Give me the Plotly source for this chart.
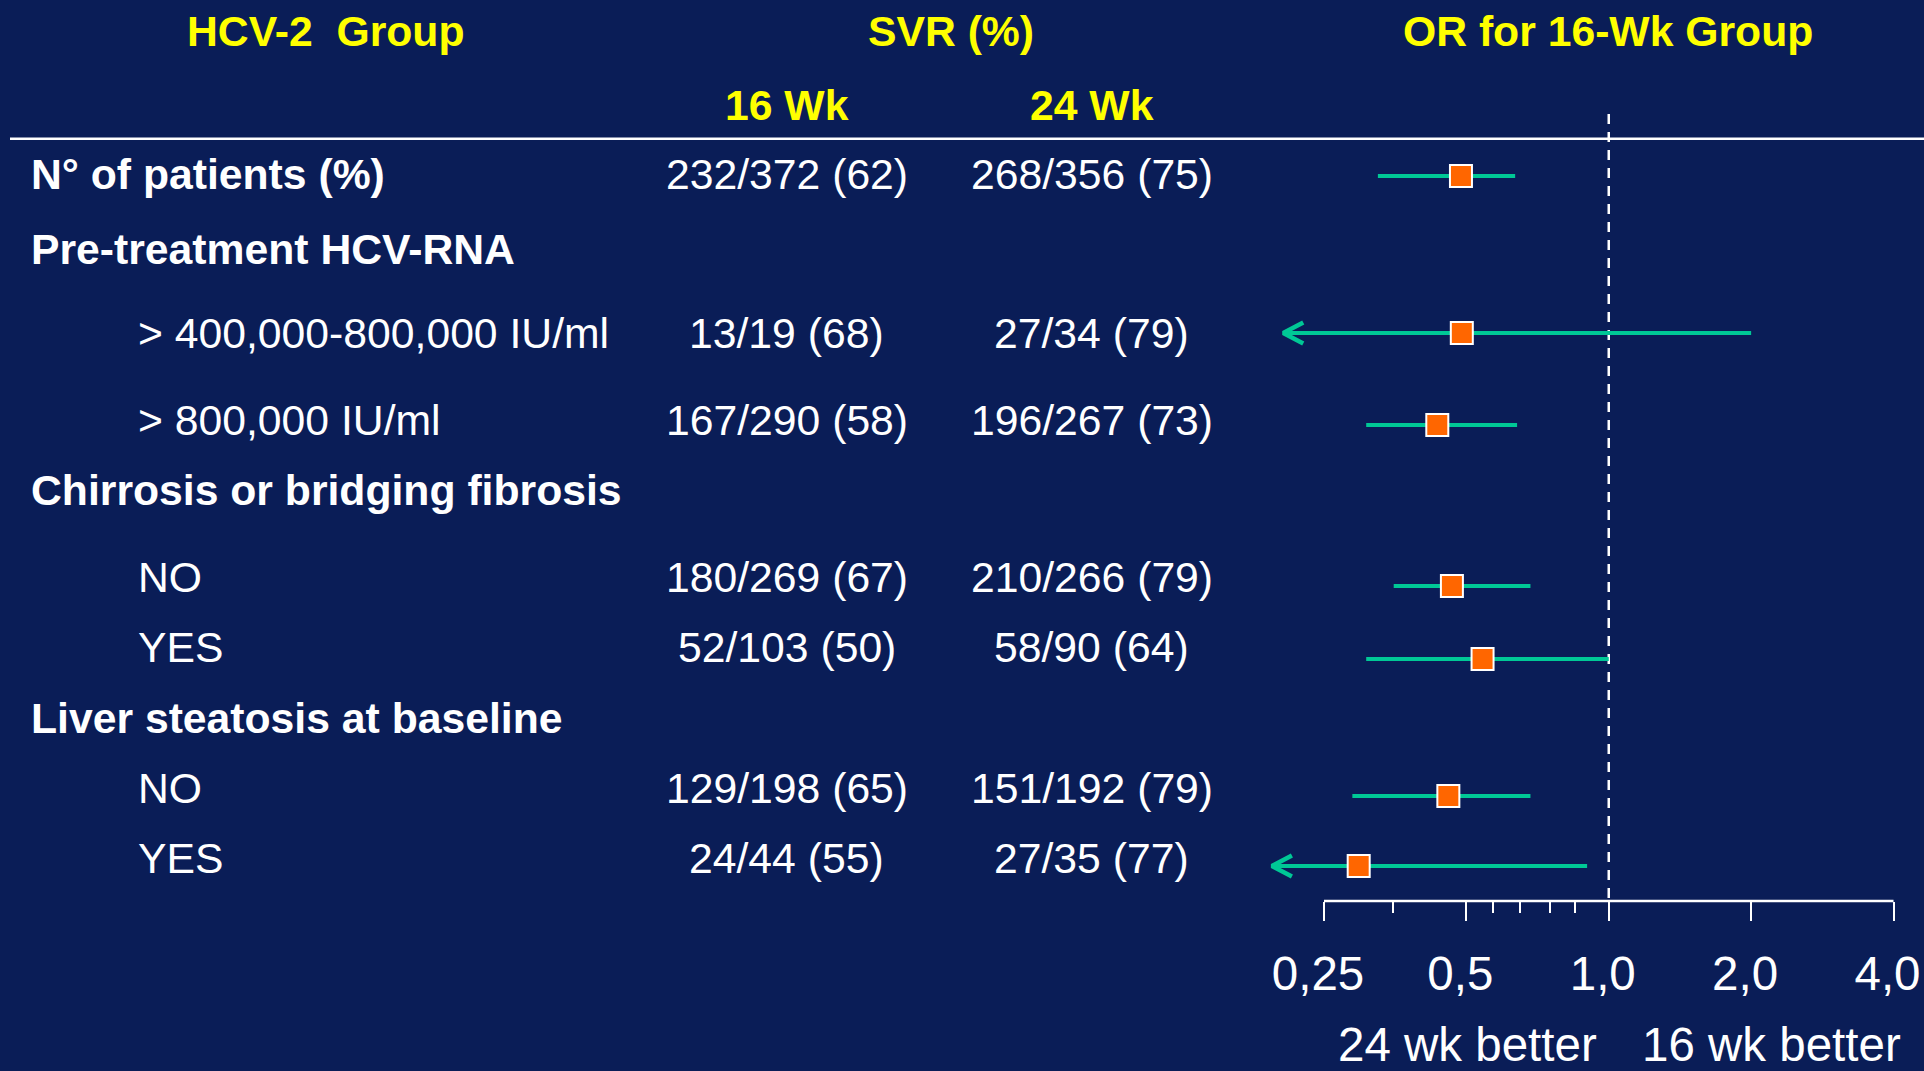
import math
import plotly.graph_objects as go

# ---------------- data ----------------
row_labels = ["N° of patients (%)", "Pre-treatment HCV-RNA", "> 400,000-800,000 IU/ml",
              "> 800,000 IU/ml", "Chirrosis or bridging fibrosis", "NO", "YES",
              "Liver steatosis at baseline", "NO", "YES"]
row_is_group = [True, True, False, False, True, False, False, True, False, False]
svr_16wk = ["232/372 (62)", "", "13/19 (68)", "167/290 (58)", "", "180/269 (67)",
            "52/103 (50)", "", "129/198 (65)", "24/44 (55)"]
svr_24wk = ["268/356 (75)", "", "27/34 (79)", "196/267 (73)", "", "210/266 (79)",
            "58/90 (64)", "", "151/192 (79)", "27/35 (77)"]

# odds ratios (16 wk vs 24 wk)
or_est = [0.487, 0.489, 0.434, 0.466, 0.541, 0.458, 0.296]
or_lo = [0.325, 0.205, 0.307, 0.351, 0.307, 0.287, 0.194]
or_hi = [0.634, 2.0, 0.640, 0.683, 1.0, 0.683, 0.900]
or_lo_arrow = [False, True, False, False, False, False, True]

tick_vals = [0.25, 0.5, 1.0, 2.0, 4.0]
tick_text = ["0,25", "0,5", "1,0", "2,0", "4,0"]
minor_tick_vals = [0.35, 0.57, 0.65, 0.75, 0.85]
ref_or = 1.0

header_group = "HCV-2\u00a0 Group"
header_svr = "SVR (%)"
header_or = "OR for 16-Wk Group"
col_16 = "16 Wk"
col_24 = "24 Wk"
favours = ["24 wk better", "16 wk better"]

# ---------------- layout / style ----------------
W, H = 1924, 1071
BG = "#0A1D57"
YELLOW = "#FFFF00"
TEAL = "#00C896"
ORANGE = "#FF6600"
FONT = "Arial, 'Liberation Sans', sans-serif"
TXT_SIZE = 42.7
AX_SIZE = 47.5

TEXT_Y = [173.5, 248.5, 333, 420, 490, 577, 647, 718, 788, 858]   # row text centres
MARK_Y = [176, 333, 425, 586, 659, 796, 866]                        # forest rows
HEAD_Y, SUBHEAD_Y = 30.5, 105
AXIS_Y = 901
AX_X0_PX, AX_X1_PX = 1324, 1893.5
DOMAIN_X0_PX = 1230
LBL_X, INDENT_X = 28.5, 136
COL16_X, COL24_X = 786.7, 1091.7

lpp = (math.log10(tick_vals[-1]) - math.log10(tick_vals[0])) / (AX_X1_PX - AX_X0_PX)
x_range = [math.log10(tick_vals[0]) - (AX_X0_PX - DOMAIN_X0_PX) * lpp,
           math.log10(tick_vals[-1]) + (W - AX_X1_PX) * lpp]

fig = go.Figure()

# CI lines
ci_x, ci_y = [], []
for lo, hi, y in zip(or_lo, or_hi, MARK_Y):
    ci_x += [lo, hi, None]
    ci_y += [y, y, None]
fig.add_trace(go.Scatter(x=ci_x, y=ci_y, mode="lines", line=dict(color=TEAL, width=4),
                         hoverinfo="skip", showlegend=False))

# chevrons for off-scale lower limits
k = 10 ** (20 * lpp)
arr_x, arr_y = [], []
for lo, y, flag in zip(or_lo, MARK_Y, or_lo_arrow):
    if flag:
        arr_x += [lo * k, lo, lo * k, None]
        arr_y += [y - 10.5, y, y + 10.5, None]
fig.add_trace(go.Scatter(x=arr_x, y=arr_y, mode="lines", line=dict(color=TEAL, width=4.5),
                         hoverinfo="skip", showlegend=False))

# point estimates
fig.add_trace(go.Scatter(x=or_est, y=MARK_Y, mode="markers", showlegend=False,
                         marker=dict(symbol="square", size=22, color=ORANGE,
                                     line=dict(color="white", width=2))))

ann = []
def txt(x, y, s, size=TXT_SIZE, color="white", bold=False, anchor="center"):
    ann.append(dict(x=x / W, xref="paper", y=y, yref="y", text=s, showarrow=False,
                    xanchor=anchor, yanchor="middle",
                    font=dict(family=FONT, size=size, color=color,
                              weight="bold" if bold else "normal")))

txt(325.5, HEAD_Y, header_group, color=YELLOW, bold=True)
txt(951, HEAD_Y, header_svr, color=YELLOW, bold=True)
txt(1608, HEAD_Y, header_or, color=YELLOW, bold=True)
txt(COL16_X, SUBHEAD_Y, col_16, color=YELLOW, bold=True)
txt(COL24_X, SUBHEAD_Y, col_24, color=YELLOW, bold=True)

for lab, grp, a, b, y in zip(row_labels, row_is_group, svr_16wk, svr_24wk, TEXT_Y):
    txt(LBL_X if grp else INDENT_X, y, lab, bold=grp, anchor="left")
    if a:
        txt(COL16_X, y, a)
    if b:
        txt(COL24_X, y, b)

txt(1467, 1044, favours[0], size=AX_SIZE)
txt(1771, 1044, favours[1], size=AX_SIZE)

shapes = [
    dict(type="line", xref="paper", yref="y", x0=10 / W, x1=1, y0=138.7, y1=138.7,
         line=dict(color="white", width=2.5), layer="below"),
    dict(type="line", xref="x", yref="y", x0=ref_or, x1=ref_or, y0=114, y1=AXIS_Y,
         line=dict(color="white", width=2.5, dash="10px,8px"), layer="below"),
    dict(type="line", xref="x", yref="y", x0=tick_vals[0], x1=tick_vals[-1], y0=AXIS_Y, y1=AXIS_Y,
         line=dict(color="white", width=2.3), layer="below"),
]

fig.update_layout(
    width=W, height=H, autosize=False,
    margin=dict(l=0, r=0, t=0, b=0, pad=0),
    paper_bgcolor=BG, plot_bgcolor=BG,
    showlegend=False,
    annotations=ann, shapes=shapes,
    xaxis=dict(type="log", range=x_range, domain=[DOMAIN_X0_PX / W, 1],
               anchor="free", position=1 - AXIS_Y / H,
               showgrid=False, zeroline=False, showline=False,
               tickmode="array", tickvals=tick_vals, ticktext=tick_text,
               ticks="outside", ticklen=19, tickwidth=2.3, tickcolor="white",
               tickfont=dict(family=FONT, size=AX_SIZE, color="white"),
               ticklabelstandoff=12, ticklabelshift=-6, ticklabeloverflow="allow",
               minor=dict(tickmode="array", tickvals=minor_tick_vals, ticks="outside",
                          ticklen=11, tickwidth=2.3, tickcolor="white", showgrid=False)),
    yaxis=dict(range=[H, 0], domain=[0, 1], visible=False),
)

fig.write_html("out.html", config={"displayModeBar": False},
               post_script="document.body.style.margin='0';document.body.style.overflow='hidden';")
